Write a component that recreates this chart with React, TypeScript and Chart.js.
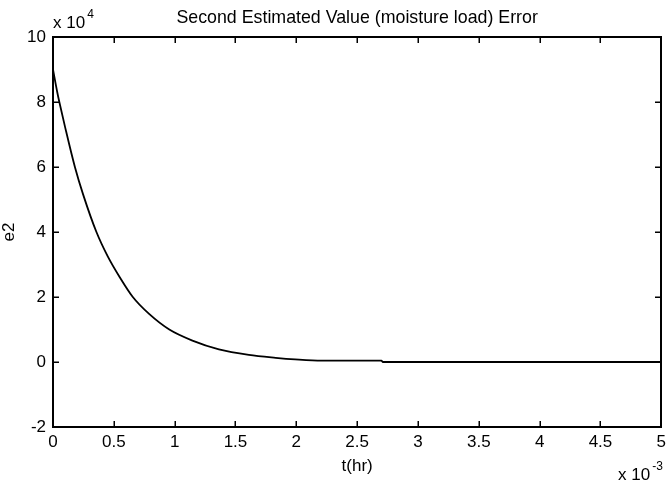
import React, { useEffect, useRef } from "react";
import { Chart, registerables } from "chart.js";

Chart.register(...registerables);

// time in units of 1e-3 hr, e2 in units of 1e4
const tValues = [0, 0.035, 0.052, 0.098, 0.18, 0.248, 0.357, 0.45, 0.55, 0.656, 0.79, 0.956, 1.146, 1.364, 1.61, 1.83, 1.99, 2.21, 2.5, 2.7, 2.71, 3.0, 4.0, 5.0];
const e2Values = [9.0, 8.3, 8.0, 7.25, 6.0, 5.15, 4.0, 3.25, 2.6, 2.0, 1.48, 1.0, 0.66, 0.39, 0.22, 0.13, 0.08, 0.04, 0.04, 0.04, 0.0, 0.0, 0.0, 0.0];
const xTickValues = [0, 0.5, 1, 1.5, 2, 2.5, 3, 3.5, 4, 4.5, 5];
const xTickLabels = ["0", "0.5", "1", "1.5", "2", "2.5", "3", "3.5", "4", "4.5", "5"];
const yTickValues = [-2, 0, 2, 4, 6, 8, 10];
const yTickLabels = ["-2", "0", "2", "4", "6", "8", "10"];
const titleText = "Second Estimated Value (moisture load) Error";
const xLabel = "t(hr)";
const yLabel = "e2";

const FONT = "Liberation Sans, Arial, sans-serif";
const FS = 17;
const BW = 2;

const framePlugin = {
  id: "matlabFrame",
  afterDraw(chart: any) {
    const { ctx, chartArea } = chart;
    const { left, top, right, bottom } = chartArea;
    const xs = chart.scales.x;
    const ys = chart.scales.y;
    ctx.save();
    const L = Math.round(left);
    const R = Math.round(right);
    const T = Math.round(top);
    const B = Math.round(bottom);
    ctx.fillStyle = "#000";
    const tl = 6;
    xTickValues.forEach((v) => {
      const px = Math.round(xs.getPixelForValue(v));
      ctx.fillRect(px - 0.5, B - tl, 1.5, tl);
      ctx.fillRect(px - 0.5, T, 1.5, tl);
    });
    yTickValues.forEach((v) => {
      const py = Math.round(ys.getPixelForValue(v));
      ctx.fillRect(L, py - 0.5, tl, 1.5);
      ctx.fillRect(R - tl, py - 0.5, tl, 1.5);
    });

    // title
    ctx.font = `17.8px ${FONT}`;
    ctx.textAlign = "center";
    ctx.textBaseline = "alphabetic";
    ctx.fillText(titleText, (left + right) / 2, 23);
    ctx.font = `${FS}px ${FONT}`;
    // x label
    ctx.fillText(xLabel, (left + right) / 2, 471);
    // y label
    ctx.save();
    ctx.translate(14, (top + bottom) / 2);
    ctx.rotate(-Math.PI / 2);
    ctx.fillText(yLabel, 0, 0);
    ctx.restore();

    // exponent labels
    ctx.textAlign = "left";
    const drawExp = (x: number, y: number, base: string, exp: string) => {
      ctx.font = `${FS}px ${FONT}`;
      ctx.fillText(base, x, y);
      const w = ctx.measureText(base).width;
      ctx.font = `12px ${FONT}`;
      ctx.fillText(exp, x + w + 2, y - 10);
    };
    drawExp(left, 28, "x 10", "4");
    drawExp(618, 480, "x 10", "-3");
    ctx.restore();
  },
};

const frameAxis = (position: string, axis: string, min: number, max: number) => ({
  type: "linear",
  position,
  axis,
  min,
  max,
  grid: { display: false, drawTicks: false },
  border: { display: true, color: "#000", width: BW },
  ticks: { display: false },
  afterFit(scale: any) {
    if (axis === "x") scale.height = 0;
    else scale.width = 0;
  },
});

export default function App() {
  const ref = useRef<HTMLCanvasElement | null>(null);
  useEffect(() => {
    document.body.style.margin = "0";
    const canvas = ref.current!;
    const chart = new Chart(canvas, {
      type: "line",
      data: {
        datasets: [
          {
            data: tValues.map((t, i) => ({ x: t, y: e2Values[i] })),
            borderColor: "#000",
            borderWidth: 1.8,
            pointRadius: 0,
            fill: false,
            cubicInterpolationMode: "monotone",
            xAxisID: "x",
            yAxisID: "y",
          },
        ],
      },
      options: {
        responsive: false,
        animation: false,
        devicePixelRatio: 1,
        layout: { padding: { top: 37, right: 6, left: 0, bottom: 0 } },
        plugins: { legend: { display: false }, tooltip: { enabled: false }, title: { display: false } },
        scales: {
          x: {
            type: "linear",
            position: "bottom",
            min: 0,
            max: 5,
            grid: { display: false, drawTicks: false },
            border: { display: true, color: "#000", width: BW },
            afterFit(scale: any) {
              scale.height = 58;
            },
            afterBuildTicks(scale: any) {
              scale.ticks = xTickValues.map((v) => ({ value: v }));
            },
            ticks: {
              color: "#000",
              font: { family: FONT, size: FS },
              padding: 5,
              maxRotation: 0,
              autoSkip: false,
              callback: (v: any) => {
                const i = xTickValues.indexOf(Number(v));
                return i >= 0 ? xTickLabels[i] : "";
              },
            },
          },
          y: {
            type: "linear",
            position: "left",
            min: -2,
            max: 10,
            grid: { display: false, drawTicks: false },
            border: { display: true, color: "#000", width: BW },
            afterFit(scale: any) {
              scale.width = 53;
            },
            afterBuildTicks(scale: any) {
              scale.ticks = yTickValues.map((v) => ({ value: v }));
            },
            ticks: {
              color: "#000",
              font: { family: FONT, size: FS },
              padding: 7,
              autoSkip: false,
              callback: (v: any) => {
                const i = yTickValues.indexOf(Number(v));
                return i >= 0 ? yTickLabels[i] : "";
              },
            },
          },
          xTop: frameAxis("top", "x", 0, 5),
          yRight: frameAxis("right", "y", -2, 10),
        },
      },
      plugins: [framePlugin],
    } as any);
    return () => chart.destroy();
  }, []);
  return (
    <div style={{ position: "absolute", left: 0, top: 0, width: 671, height: 485, background: "#fff" }}>
      <canvas ref={ref} width={671} height={485} style={{ width: 671, height: 485, display: "block" }} />
    </div>
  );
}
